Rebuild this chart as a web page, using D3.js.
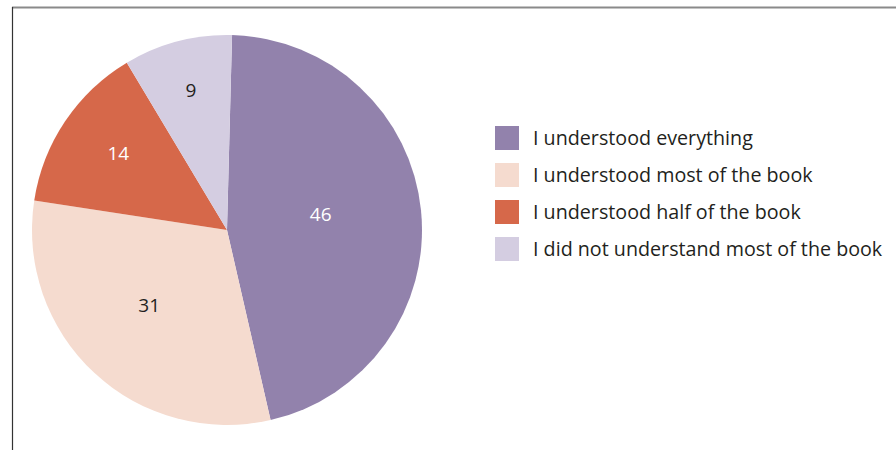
<!DOCTYPE html>
<html>
<head>
<meta charset="utf-8">
<script src="https://cdn.jsdelivr.net/npm/d3@7"></script>
<style>
  body { margin: 0; background: #fff; }
  svg { display: block; font-family: "Open Sans", "Noto Sans", sans-serif; }
</style>
</head>
<body>
<svg id="chart" width="896" height="450"></svg>
<script>
// Chart data
const categories = [
  "I understood everything",
  "I understood most of the book",
  "I understood half of the book",
  "I did not understand most of the book"
];
const values = [46, 31, 14, 9];
const colours = ["#9282ac", "#f5dbcf", "#d6684a", "#d4cde1"];
const labelColours = ["#ffffff", "#231f20", "#ffffff", "#231f20"];

const width = 896, height = 450;
const cx = 227, cy = 230, radius = 195;

// Label placement (best-fit): share of radius and angle nudge in degrees
const labelFrac = [0.487, 0.554, 0.682, 0.738];
const labelNudge = [-3.7, 3.2, 1.3, 0.2];

let svg = d3.select("#chart");

// Frame lines
svg.append("line")
  .attr("x1", 12).attr("x2", width)
  .attr("y1", 7.5).attr("y2", 7.5)
  .attr("stroke", "#8a8a8a").attr("stroke-width", 2);
svg.append("line")
  .attr("x1", 12.5).attr("x2", 12.5)
  .attr("y1", 7).attr("y2", height)
  .attr("stroke", "#333").attr("stroke-width", 1.2);

// Pie layout
let pie = d3.pie()
  .sort(null)
  .startAngle(0.026)
  .endAngle(0.026 + 2 * Math.PI);
let arcs = pie(values);

let arc = d3.arc().innerRadius(0).outerRadius(radius);

let g = svg.append("g").attr("transform", `translate(${cx}, ${cy})`);

g.selectAll("path")
  .data(arcs)
  .join("path")
    .attr("d", arc)
    .attr("fill", (d, i) => colours[i]);

g.selectAll("text")
  .data(arcs)
  .join("text")
    .attr("transform", (d, i) => {
      let a = (d.startAngle + d.endAngle) / 2 + labelNudge[i] * Math.PI / 180;
      let r = radius * labelFrac[i];
      return `translate(${r * Math.sin(a)}, ${-r * Math.cos(a)})`;
    })
    .attr("text-anchor", "middle")
    .attr("dy", "0.35em")
    .attr("font-size", "19px")
    .attr("fill", (d, i) => labelColours[i])
    .text(d => d.data);

// Legend
let legend = svg.append("g").attr("transform", "translate(495, 126)");
let item = legend.selectAll("g")
  .data(categories)
  .join("g")
    .attr("transform", (d, i) => `translate(0, ${i * 37})`);

item.append("rect")
  .attr("width", 24).attr("height", 24)
  .attr("fill", (d, i) => colours[i]);

item.append("text")
  .attr("x", 38)
  .attr("y", 12)
  .attr("dy", "0.35em")
  .attr("font-size", "19.7px")
  .attr("fill", "#231f20")
  .text(d => d);
</script>
</body>
</html>
